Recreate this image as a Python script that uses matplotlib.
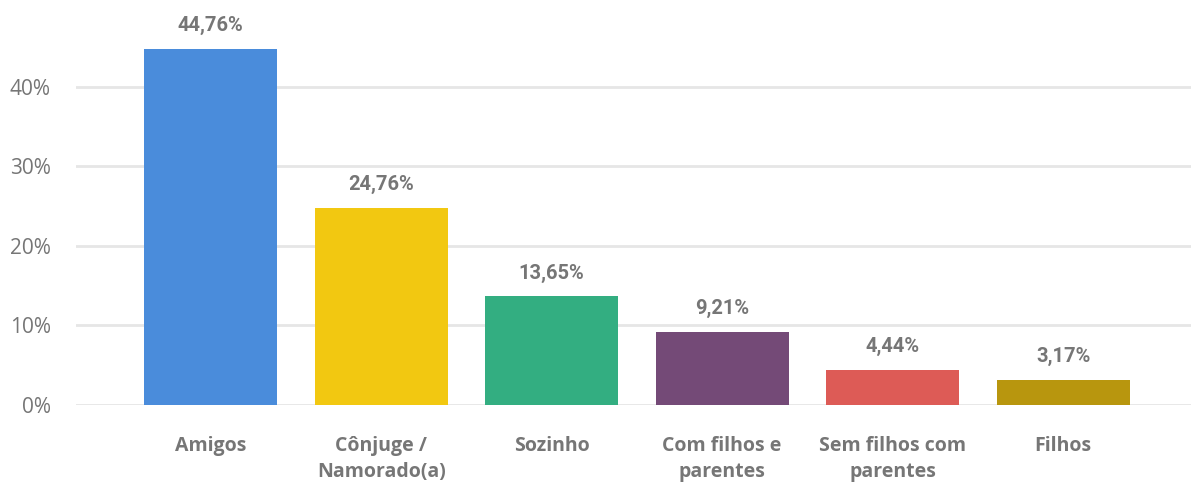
import matplotlib.pyplot as plt
from matplotlib.ticker import FuncFormatter

categories = ['Amigos', 'Cônjuge /\nNamorado(a)', 'Sozinho', 'Com filhos e\nparentes',
              'Sem filhos com\nparentes', 'Filhos']
values = [44.76, 24.76, 13.65, 9.21, 4.44, 3.17]
colors = ['#4A8CDB', '#F2C811', '#33AE81', '#744A77', '#DD5B56', '#B8960E']

fig = plt.figure(figsize=(11.91, 4.83), dpi=100)
ax = fig.add_axes([76 / 1191, 78 / 483, 1115 / 1191, 405 / 483])

x = range(len(categories))
bars = ax.bar(x, values, width=0.78, color=colors, zorder=3)

for b, v in zip(bars, values):
    ax.annotate(f'{v:.2f}%'.replace('.', ','), (b.get_x() + b.get_width() / 2, v),
                xytext=(0, 10), textcoords='offset points', ha='center', va='bottom',
                fontsize=14.5, fontweight='bold', color='#767676', family='Roboto')

ax.set_xlim(-0.79, 5.75)
ax.set_ylim(0, 50.94)
ax.set_yticks([0, 10, 20, 30, 40])
ax.yaxis.set_major_formatter(FuncFormatter(lambda v, p: f'{v:.0f}%'))
ax.grid(axis='y', color='#E6E6E6', linewidth=2, zorder=0)
ax.set_xticks(list(x))
ax.set_xticklabels(categories, fontsize=14, fontweight='bold', color='#767676',
                   family='Open Sans', linespacing=1.45)
for lbl in ax.get_yticklabels():
    lbl.set_family('Open Sans')
    lbl.set_fontsize(15)
    lbl.set_color('#767676')
ax.tick_params(axis='both', length=0)
ax.tick_params(axis='x', pad=22)
ax.tick_params(axis='y', pad=18)
for s in ax.spines.values():
    s.set_visible(False)

fig.savefig('out.png', dpi=100)
